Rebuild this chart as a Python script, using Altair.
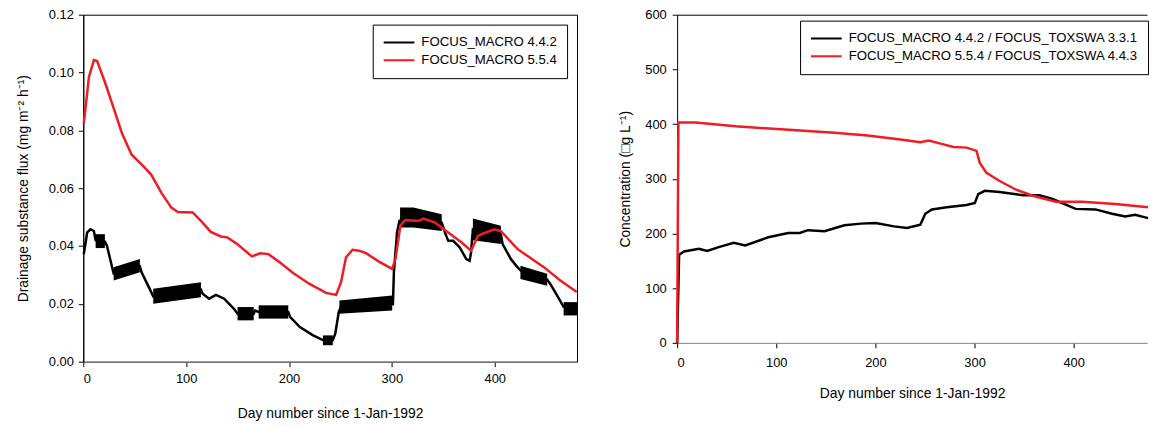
import altair as alt
import pandas as pd

FONT = "Liberation Sans"
BLACK = "#000000"
RED = "#ee1c25"

# ---------------- Left panel: drainage substance flux ----------------
left_names = ["FOCUS_MACRO 4.4.2", "FOCUS_MACRO 5.5.4"]

red_l_day = [0.5, 5.5, 10.3, 13.5, 21.4, 27.9, 37.5, 47, 56.7, 66, 76, 85.6, 92, 106.4,
             114.4, 124, 133.7, 140, 149.6, 164, 172, 180, 191, 204, 220, 236, 245.8,
             250.6, 255.4, 261.8, 268, 274.5, 287.5, 300.3, 303.5, 308.3, 313, 326,
             330.8, 342, 354.8, 367.6, 377, 383.7, 390, 399.7, 406, 422, 447.8, 463.8, 479.8]
red_l_val = [0.0823, 0.0985, 0.1043, 0.1040, 0.0963, 0.0894, 0.0791, 0.0716, 0.0682, 0.0647,
             0.0584, 0.0533, 0.0518, 0.0516, 0.0487, 0.0449, 0.0433, 0.0430, 0.0407, 0.0364,
             0.0375, 0.0372, 0.0344, 0.0307, 0.0269, 0.0238, 0.0231, 0.0275, 0.0361, 0.0387,
             0.0384, 0.0376, 0.0346, 0.0321, 0.0355, 0.0470, 0.0490, 0.0487, 0.0495, 0.0481,
             0.0447, 0.0413, 0.0384, 0.0435, 0.0445, 0.0458, 0.0452, 0.0390, 0.0327, 0.0281,
             0.0241]

blk_l_day = [0.5, 3.8, 7, 10.3, 12, 21, 23, 29.5, 55, 56.7, 63, 68, 114.4, 116, 122.4, 129,
             137, 146.5, 150, 165.7, 167, 170.5, 199.3, 201, 210.6, 223.4, 233, 242.6, 245,
             248.4, 250.6, 300.3, 301, 302, 305, 307.4, 348.5, 351.6, 354.8, 359.6, 366,
             372.4, 375.6, 377, 378.8, 406, 407.7, 415.7, 422, 427, 451, 454, 460.6, 467, 480]
blk_l_val = [0.0372, 0.0447, 0.0458, 0.0452, 0.0420, 0.0415, 0.0401, 0.0305, 0.0330, 0.0309,
             0.0263, 0.0226, 0.0249, 0.0235, 0.0218, 0.0231, 0.0218, 0.0183, 0.0166, 0.0166,
             0.0177, 0.0172, 0.0172, 0.0155, 0.0120, 0.0091, 0.0075, 0.0075, 0.0097, 0.0172,
             0.0190, 0.0203, 0.0195, 0.0309, 0.0447, 0.0487, 0.0481, 0.0447, 0.0418, 0.0418,
             0.0395, 0.0355, 0.0349, 0.0378, 0.0458, 0.0440, 0.0407, 0.0355, 0.0327, 0.0310,
             0.0284, 0.0269, 0.0229, 0.0190, 0.0183]

# daily-oscillation envelopes of the black series (drawn as filled bands)
band_id = [1, 1, 2, 2, 3, 3, 4, 4, 5, 5, 6, 6, 7, 7, 8, 8, 8, 9, 9, 10, 10, 11, 11]
band_day = [12, 21, 29.5, 55, 68, 114.4, 150, 165.7, 170.5, 199.3, 233, 242.6, 249, 300.3,
            308, 321, 348.5, 378.8, 406, 425, 451, 467, 480]
band_lo = [0.0393, 0.0393, 0.0281, 0.0309, 0.0200, 0.0223, 0.0143, 0.0143, 0.0149, 0.0149,
           0.0057, 0.0057, 0.0166, 0.0177, 0.0464, 0.0464, 0.0452, 0.0420, 0.0407, 0.0286,
           0.0263, 0.0160, 0.0160]
band_hi = [0.0441, 0.0441, 0.0327, 0.0355, 0.0252, 0.0275, 0.0189, 0.0189, 0.0195, 0.0195,
           0.0091, 0.0091, 0.0212, 0.0229, 0.0533, 0.0533, 0.0510, 0.0495, 0.0470, 0.0332,
           0.0304, 0.0206, 0.0206]

# ---------------- Right panel: concentration ----------------
right_names = ["FOCUS_MACRO 4.4.2 / FOCUS_TOXSWA 3.3.1", "FOCUS_MACRO 5.5.4 / FOCUS_TOXSWA 4.4.3"]

red_r_day = [0, 1.3, 18.7, 58.7, 108.7, 158.7, 192, 225.3, 245.3, 253.7, 268.7, 278.7, 292,
             302, 305.3, 312, 325.3, 342, 358.7, 382, 408.7, 442, 475]
red_r_val = [0, 403, 403, 396, 390, 384, 379, 372, 367, 370, 363, 358, 357, 351, 329, 311,
             296, 280, 269, 258, 258, 254, 248]

blk_r_day = [0, 2, 7, 22, 30.3, 42, 57, 68.7, 92, 112, 123.7, 132, 148.7, 168.7, 185.3,
             200.3, 218.7, 232, 245.3, 250.3, 257, 272, 292, 300.3, 303.7, 310.3, 325.3,
             348.7, 365.3, 378.7, 402, 422, 438.7, 452, 462, 475]
blk_r_val = [0, 161, 167, 172, 168, 175, 183, 178, 193, 201, 201, 206, 204, 215, 218, 219,
             213, 210, 216, 236, 244, 248, 252, 256, 272, 278, 276, 270, 270, 263, 245, 244,
             236, 231, 234, 228]

# ---------------- data frames ----------------
df_l_blk = pd.DataFrame({"day": blk_l_day, "val": blk_l_val, "series": left_names[0]})
df_l_red = pd.DataFrame({"day": red_l_day, "val": red_l_val, "series": left_names[1]})
df_band = pd.DataFrame({"band": band_id, "day": band_day, "lo": band_lo, "hi": band_hi})
df_r_blk = pd.DataFrame({"day": blk_r_day, "val": blk_r_val, "series": right_names[0]})
df_r_red = pd.DataFrame({"day": red_r_day, "val": red_r_val, "series": right_names[1]})

XTITLE = "Day number since 1-Jan-1992"


def legend(x, y):
    return alt.Legend(orient="none", legendX=x, legendY=y, title=None,
                      symbolType="stroke", symbolSize=961, symbolStrokeWidth=2,
                      strokeColor="black", fillColor="white", padding=10,
                      labelFont=FONT, labelFontSize=13.3, labelColor="black",
                      labelOffset=6, clipHeight=16, rowPadding=2, cornerRadius=0)


# ---- left ----
xl_scale = alt.Scale(domain=[0, 480], nice=False, zero=False)
yl_scale = alt.Scale(domain=[0, 0.12], nice=False)
xl_axis = alt.Axis(values=[0, 100, 200, 300, 400], title=XTITLE, domainColor="#7f7f7f",
                   labelPadding=6, titlePadding=21, format="d")
yl_axis = alt.Axis(values=[0, 0.02, 0.04, 0.06, 0.08, 0.10, 0.12], format=".2f",
                   title="Drainage substance flux (mg m\u207b\u00b2 h\u207b\u00b9)",
                   labelPadding=5, titlePadding=18)
col_l = alt.Color("series:N", scale=alt.Scale(domain=left_names, range=[BLACK, RED]),
                  legend=legend(292, 10))

l_band = alt.Chart(df_band).mark_area(color=BLACK, opacity=1).encode(
    x=alt.X("day:Q", scale=xl_scale, axis=xl_axis),
    y=alt.Y("lo:Q", scale=yl_scale, axis=yl_axis),
    y2="hi:Q",
    detail="band:N",
)
l_blk = alt.Chart(df_l_blk).mark_line(strokeWidth=2.5).encode(
    x=alt.X("day:Q", scale=xl_scale, axis=xl_axis),
    y=alt.Y("val:Q", scale=yl_scale, axis=yl_axis),
    color=col_l,
)
l_red = alt.Chart(df_l_red).mark_line(strokeWidth=2.5).encode(
    x=alt.X("day:Q", scale=xl_scale, axis=xl_axis),
    y=alt.Y("val:Q", scale=yl_scale, axis=yl_axis),
    color=col_l,
)
left = alt.layer(l_band, l_blk, l_red).properties(width=498, height=350)

# ---- right ----
xr_scale = alt.Scale(domain=[0, 474], nice=False, zero=False)
yr_scale = alt.Scale(domain=[0, 600], nice=False)
xr_axis = alt.Axis(values=[0, 100, 200, 300, 400], title=XTITLE, domainColor="#7f7f7f",
                   labelPadding=9, titlePadding=17, format="d")
yr_axis = alt.Axis(values=[0, 100, 200, 300, 400, 500, 600],
                   title="Concentration (\u25a1g L\u207b\u00b9)",
                   labelPadding=6, titlePadding=12)
col_r = alt.Color("series:N", scale=alt.Scale(domain=right_names, range=[BLACK, RED]),
                  legend=legend(124, 6))

r_blk = alt.Chart(df_r_blk).mark_line(strokeWidth=2.5).encode(
    x=alt.X("day:Q", scale=xr_scale, axis=xr_axis),
    y=alt.Y("val:Q", scale=yr_scale, axis=yr_axis),
    color=col_r,
)
r_red = alt.Chart(df_r_red).mark_line(strokeWidth=2.5).encode(
    x=alt.X("day:Q", scale=xr_scale, axis=None),
    y=alt.Y("val:Q", scale=yr_scale, axis=yr_axis),
    color=col_r,
)
r_top = alt.Chart(df_r_red).mark_line(opacity=0).encode(
    x=alt.X("day:Q", scale=xr_scale,
            axis=alt.Axis(orient="top", title=None, labels=False, ticks=False,
                          domainColor="black")),
    y=alt.Y("val:Q", scale=yr_scale, axis=yr_axis),
)
right = alt.layer(r_blk, r_red, r_top).resolve_axis(x="independent").properties(
    width=474, height=331, view=alt.ViewBackground(strokeOpacity=0)
)

chart = alt.hconcat(left, right, spacing=36).resolve_scale(color="independent").properties(
    padding={"left": 16, "top": 6, "right": 0, "bottom": 0},
    background="white",
).configure_view(stroke="black", strokeWidth=1).configure_axis(
    labelFont=FONT, titleFont=FONT, labelFontSize=13, titleFontSize=14,
    titleFontWeight="normal", grid=False, domainColor="black", tickColor="black",
    labelColor="black", titleColor="black", tickSize=5,
).configure_legend(labelLimit=400)

chart.save("out.html", embed_options={"renderer": "svg", "actions": False})
